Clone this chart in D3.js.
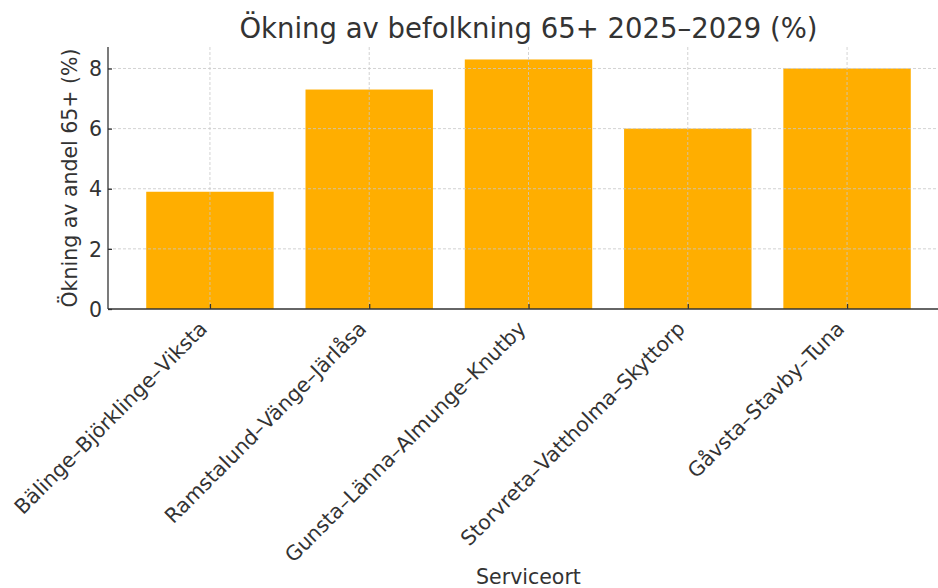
<!DOCTYPE html>
<html>
<head>
<meta charset="utf-8">
<script src="https://cdn.jsdelivr.net/npm/d3@7"></script>
<style>
  body { margin: 0; background: #fff; }
  svg { display: block; font-family: "DejaVu Sans", sans-serif; }
</style>
</head>
<body>
<svg id="chart" width="938" height="588"></svg>
<script>
// data
var categories = ["Bälinge–Björklinge–Viksta", "Ramstalund–Vänge–Järlåsa", "Gunsta–Länna–Almunge–Knutby", "Storvreta–Vattholma–Skyttorp", "Gåvsta–Stavby–Tuna"];
var values = [3.9, 7.3, 8.3, 6.0, 8.0];
var yTicks = [0, 2, 4, 6, 8];

var svg = d3.select("#chart");

// plot area (right edge runs past the window, like the reference)
var plotLeft = 108, plotRight = 949, plotTop = 47, plotBottom = 309;
var textColor = "#333";
var labelSize = 20.5;

// linear scale so margins match matplotlib (-0.64 .. n-0.36)
var x = d3.scaleLinear()
  .domain([-0.64, categories.length - 1 + 0.64])
  .range([plotLeft, plotRight]);

var y = d3.scaleLinear()
  .domain([0, d3.max(values) * 1.05])
  .range([plotBottom, plotTop]);

var barW = x(0.8) - x(0);

// bars
svg.append("g").selectAll("rect")
  .data(values)
  .enter().append("rect")
    .attr("x", function(d, i) { return x(i) - barW / 2; })
    .attr("y", function(d) { return y(d); })
    .attr("width", barW)
    .attr("height", function(d) { return y(0) - y(d); })
    .attr("fill", "#FFAE00");

// grid drawn on top of the bars
var grid = svg.append("g")
  .attr("stroke", "#c8c8c8")
  .attr("stroke-width", 0.8)
  .attr("stroke-dasharray", "3,2");

grid.selectAll("line.h")
  .data(yTicks.filter(function(t) { return t > 0; }))
  .enter().append("line")
    .attr("x1", plotLeft).attr("x2", plotRight)
    .attr("y1", function(d) { return y(d); })
    .attr("y2", function(d) { return y(d); });

grid.selectAll("line.v")
  .data(categories)
  .enter().append("line")
    .attr("x1", function(d, i) { return x(i); })
    .attr("x2", function(d, i) { return x(i); })
    .attr("y1", plotTop).attr("y2", plotBottom);

// y axis, ticks inward
var yAxis = svg.append("g")
  .attr("transform", "translate(" + plotLeft + ",0)")
  .call(d3.axisLeft(y).tickValues(yTicks).tickSize(-4).tickPadding(6).tickFormat(d3.format("d")));
yAxis.select(".domain").attr("d", "M0," + plotTop + "V" + plotBottom).attr("stroke", textColor).attr("stroke-width", 1.3);
yAxis.selectAll(".tick line").attr("stroke", textColor).attr("stroke-width", 1.3);
yAxis.selectAll("text")
  .attr("font-size", labelSize)
  .attr("font-family", "DejaVu Sans")
  .attr("fill", textColor)
  .attr("dy", "0.35em");

// x axis, ticks inward
var xAxis = svg.append("g")
  .attr("transform", "translate(0," + plotBottom + ")")
  .call(d3.axisBottom(x).tickValues(d3.range(categories.length)).tickSize(-5).tickFormat(function(i) { return categories[i]; }));
xAxis.select(".domain").attr("d", "M" + plotLeft + ",0H" + plotRight).attr("stroke", textColor).attr("stroke-width", 1.3);
xAxis.selectAll(".tick line").attr("stroke", textColor).attr("stroke-width", 1.3);
xAxis.selectAll("text")
  .attr("font-size", labelSize)
  .attr("font-family", "DejaVu Sans")
  .attr("fill", textColor)
  .attr("text-anchor", "end")
  .attr("dy", null)
  .attr("y", 0)
  .attr("transform", "translate(-2,21) rotate(-45)");

// title
svg.append("text")
  .attr("x", (plotLeft + plotRight) / 2)
  .attr("y", 38)
  .attr("text-anchor", "middle")
  .attr("font-size", 27.5)
  .attr("fill", textColor)
  .text("Ökning av befolkning 65+ 2025–2029 (%)");

// axis labels
svg.append("text")
  .attr("transform", "translate(77," + ((plotTop + plotBottom) / 2) + ") rotate(-90)")
  .attr("text-anchor", "middle")
  .attr("font-size", labelSize)
  .attr("fill", textColor)
  .text("Ökning av andel 65+ (%)");

svg.append("text")
  .attr("x", (plotLeft + plotRight) / 2)
  .attr("y", 584)
  .attr("text-anchor", "middle")
  .attr("font-size", labelSize)
  .attr("fill", textColor)
  .text("Serviceort");
</script>
</body>
</html>
